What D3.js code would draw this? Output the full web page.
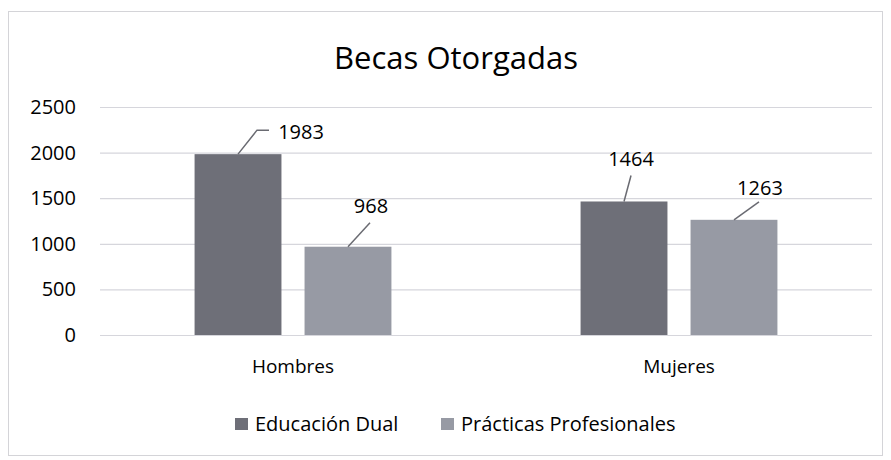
<!DOCTYPE html>
<html>
<head>
<meta charset="utf-8">
<script src="https://cdn.jsdelivr.net/npm/d3@7"></script>
<style>
  body { margin: 0; background: #fff; }
  text { font-family: "Open Sans", sans-serif; fill: #000; }
</style>
</head>
<body>
<div id="chart"></div>
<script>
// Data
const categories = ["Hombres", "Mujeres"];
const series = ["Educación Dual", "Prácticas Profesionales"];
const educacionDual = [1983, 1464];
const practicasProfesionales = [968, 1263];
const yTicks = [0, 500, 1000, 1500, 2000, 2500];

const colors = ["#6e6f78", "#979aa4"];

// label leader offsets relative to bar top centre: [lineX, lineY, elbowX, textDx, textDy]
const labelLayout = [
  [[19, -24, 31, 63, -15], [22, -24, 22, 23, -34]],
  [[7, -26, 7, 7, -35], [25, -18, 25, 26, -25]]
];

const W = 891, H = 460;
const margin = {top: 107, right: 19, bottom: 125, left: 100};
const width = W - margin.left - margin.right,
      height = H - margin.top - margin.bottom;

const svg = d3.select("#chart").append("svg")
    .attr("width", W)
    .attr("height", H);

// Frame
svg.append("rect")
    .attr("x", 8.5).attr("y", 11.5)
    .attr("width", 874).attr("height", 444)
    .attr("fill", "none")
    .attr("stroke", "#d4d4d8");

// Title
svg.append("text")
    .attr("x", 456).attr("y", 69)
    .attr("text-anchor", "middle")
    .style("font-size", "31px")
    .text("Becas Otorgadas");

const g = svg.append("g")
    .attr("transform", `translate(${margin.left},${margin.top})`);

const y = d3.scaleLinear().domain([0, 2500]).range([height, 0]);
const x0 = d3.scaleBand().domain(categories).range([0, width]);
const x1 = d3.scaleBand().domain(series).range([0, x0.bandwidth()])
    .paddingInner(0.21).paddingOuter(0.86);

// Gridlines
g.append("g")
  .selectAll("line")
  .data(yTicks)
  .join("line")
    .attr("x1", 0).attr("x2", width)
    .attr("y1", d => y(d) + 0.5).attr("y2", d => y(d) + 0.5)
    .attr("stroke", "#d6d6dc")
    .attr("stroke-width", 1.2);

// Y axis labels
const yAxis = g.append("g")
    .call(d3.axisLeft(y).tickValues(yTicks).tickFormat(d3.format("d"))
      .tickSize(0).tickPadding(24));
yAxis.select(".domain").remove();
yAxis.selectAll("text")
    .style("font-size", "20px")
    .style("font-family", "'Open Sans', sans-serif")
    .attr("fill", "#000");

// X axis labels
const xAxis = g.append("g")
    .attr("transform", `translate(0,${height})`)
    .call(d3.axisBottom(x0).tickSize(0).tickPadding(25));
xAxis.select(".domain").remove();
xAxis.selectAll("text")
    .style("font-size", "19px")
    .style("font-family", "'Open Sans', sans-serif")
    .attr("fill", "#000");

const rows = categories.map((c, i) => ({
  category: c,
  values: [educacionDual[i], practicasProfesionales[i]]
}));

const groups = g.selectAll(".grp")
  .data(rows)
  .join("g")
    .attr("class", "grp")
    .attr("transform", d => `translate(${x0(d.category)},0)`);

groups.selectAll("rect")
  .data(d => d.values.map((v, j) => ({s: series[j], v: v, j: j})))
  .join("rect")
    .attr("x", d => x1(d.s))
    .attr("y", d => y(d.v))
    .attr("width", x1.bandwidth())
    .attr("height", d => height - y(d.v))
    .attr("fill", d => colors[d.j]);

// Data labels with leader lines
groups.each(function(d, i) {
  const grp = d3.select(this);
  d.values.forEach((v, j) => {
    const cx = x1(series[j]) + x1.bandwidth() / 2;
    const ty = y(v);
    const L = labelLayout[i][j];
    grp.append("path")
        .attr("d", `M${cx},${ty}L${cx + L[0]},${ty + L[1]}L${cx + L[2]},${ty + L[1]}`)
        .attr("fill", "none")
        .attr("stroke", "#6a6b72")
        .attr("stroke-width", 1.5);
    grp.append("text")
        .attr("x", cx + L[3])
        .attr("y", ty + L[4])
        .attr("text-anchor", "middle")
        .style("font-size", "20px")
        .text(v);
  });
});

// Legend
const legendX = [235, 441];
const legend = svg.append("g");
series.forEach((s, j) => {
  legend.append("rect")
      .attr("x", legendX[j]).attr("y", 418)
      .attr("width", 13).attr("height", 12)
      .attr("fill", colors[j]);
  legend.append("text")
      .attr("x", legendX[j] + 20).attr("y", 431)
      .style("font-size", "20px")
      .text(s);
});
</script>
</body>
</html>
